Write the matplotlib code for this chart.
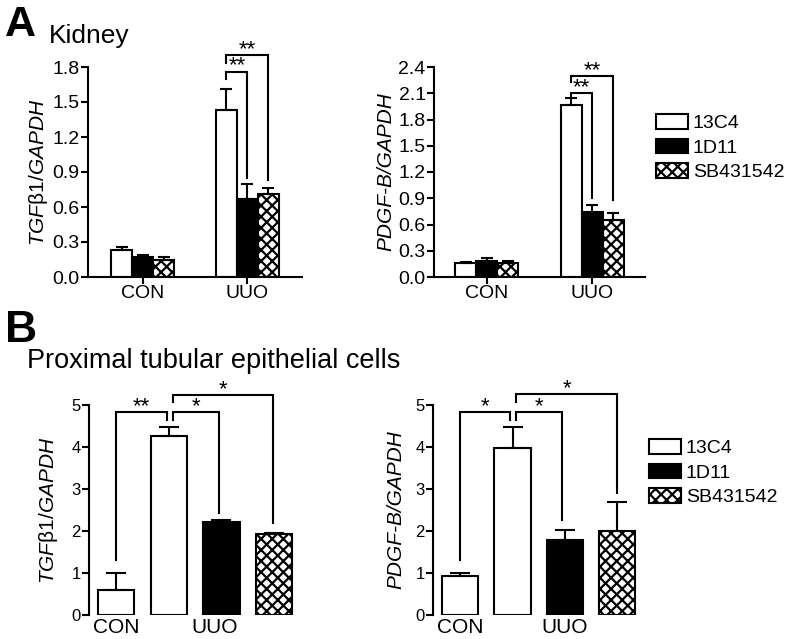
"""
Kidney and proximal tubular epithelial cell expression of TGFb1 and PDGF-B
"""

# Import required modules
import matplotlib
matplotlib.use('Agg')
import matplotlib.pyplot as plt
from matplotlib.patches import Patch
import numpy as np

plt.rcParams['font.family'] = ['Liberation Sans', 'DejaVu Sans']
plt.rcParams['mathtext.fontset'] = 'custom'
plt.rcParams['mathtext.it'] = 'Liberation Sans:italic'
plt.rcParams['mathtext.rm'] = 'Liberation Sans'
plt.rcParams['hatch.linewidth'] = 1.6

# Data
treatments = ['13C4', '1D11', 'SB431542']
groups = ['CON', 'UUO']

kidney_tgf_con = [0.23, 0.17, 0.15]
kidney_tgf_con_err = [0.025, 0.02, 0.02]
kidney_tgf_uuo = [1.43, 0.67, 0.71]
kidney_tgf_uuo_err = [0.18, 0.13, 0.055]

kidney_pdgf_con = [0.165, 0.185, 0.155]
kidney_pdgf_con_err = [0.008, 0.028, 0.03]
kidney_pdgf_uuo = [1.97, 0.74, 0.65]
kidney_pdgf_uuo_err = [0.08, 0.08, 0.08]

# Proximal tubular cells: CON (13C4), then UUO 13C4, 1D11, SB431542
ptec_tgf = [0.6, 4.27, 2.22, 1.94]
ptec_tgf_err = [0.4, 0.2, 0.04, 0.01]
ptec_pdgf = [0.93, 3.97, 1.79, 1.99]
ptec_pdgf_err = [0.07, 0.5, 0.24, 0.71]

# Bar styles per treatment
colors = ['white', 'black', 'white']
hatches = ['', '', 'xxx']
LW = 1.5

tgf_label = r'$\mathit{TGF}$β$\mathit{1/GAPDH}$'
pdgf_label = 'PDGF-B/GAPDH'


def px_axes(fig, left, top, right, bottom):
    # Axes placed by pixel edges of the 786x639 figure
    W, H = 786.0, 639.0
    return fig.add_axes([left / W, 1 - bottom / H,
                         (right - left) / W, (bottom - top) / H])


def style_axes(ax, fontsize, bottom=True):
    for side in ['top', 'right']:
        ax.spines[side].set_visible(False)
    ax.spines['left'].set_linewidth(LW)
    ax.spines['bottom'].set_linewidth(LW)
    ax.spines['bottom'].set_visible(bottom)
    ax.tick_params(axis='y', direction='out', length=5, width=LW,
                   pad=1, labelsize=fontsize)


def bracket(ax, x1, x2, top, bottom1, bottom2, text):
    ax.plot([x1, x1, x2, x2], [bottom1, top, top, bottom2], color='k',
            lw=LW, clip_on=False, solid_joinstyle='miter')
    ax.annotate(text, ((x1 + x2) / 2, top), xytext=(0, 0),
                textcoords='offset points', ha='center', va='baseline',
                fontsize=16, annotation_clip=False)


def kidney_panel(ax, con, con_err, uuo, uuo_err, ymax, xlim):
    x = np.arange(len(groups))
    width = 0.2
    for i in range(len(treatments)):
        xs = x + (i - 1) * width
        vals = [con[i], uuo[i]]
        errs = [con_err[i], uuo_err[i]]
        ax.bar(xs, vals, width, color=colors[i], edgecolor='k',
               hatch=hatches[i], linewidth=LW, label=treatments[i])
        ax.errorbar(xs, vals, yerr=[np.zeros(len(errs)), errs], fmt='none',
                    ecolor='k', elinewidth=LW, capsize=4, capthick=LW)
    ax.set_xlim(*xlim)
    ax.set_ylim(0, ymax)
    ax.set_yticks(np.arange(0, ymax + 0.01, 0.3))
    ax.set_yticklabels(['%.1f' % v for v in np.arange(0, ymax + 0.01, 0.3)])
    ax.set_xticks(x)
    ax.set_xticklabels(groups, fontsize=14)
    style_axes(ax, 14)
    ax.tick_params(axis='x', direction='out', length=5, width=LW, pad=1)


def cell_panel(ax, vals, errs, uuo_pos):
    x = np.arange(len(vals))
    width = 0.69
    bar_colors = ['white'] + colors
    bar_hatches = [''] + hatches
    for i in range(len(vals)):
        ax.bar(x[i], vals[i], width, color=bar_colors[i], edgecolor='k',
               hatch=bar_hatches[i], linewidth=LW)
    ax.errorbar(x, vals, yerr=[np.zeros(len(errs)), errs], fmt='none',
                ecolor='k', elinewidth=LW, capsize=7, capthick=LW)
    ax.set_xlim(-0.52, 3.38)
    ax.set_ylim(0, 5)
    ax.set_yticks(range(6))
    ax.set_xticks([0, uuo_pos])
    ax.set_xticklabels(groups, fontsize=15)
    style_axes(ax, 12, bottom=False)
    ax.tick_params(axis='x', length=0, pad=2)


fig = plt.figure(figsize=(7.86, 6.39), dpi=100)

# Panel A: kidney
ax1 = px_axes(fig, 88, 67, 302, 277)
kidney_panel(ax1, kidney_tgf_con, kidney_tgf_con_err,
             kidney_tgf_uuo, kidney_tgf_uuo_err, 1.8, (-0.52, 1.52))
ax1.set_ylabel(tgf_label, fontsize=15, labelpad=2)
bracket(ax1, 0.8, 1.0, 1.76, 1.70, 0.85, '**')
bracket(ax1, 0.8, 1.2, 1.90, 1.83, 0.83, '**')

ax2 = px_axes(fig, 434, 67, 645, 277)
kidney_panel(ax2, kidney_pdgf_con, kidney_pdgf_con_err,
             kidney_pdgf_uuo, kidney_pdgf_uuo_err, 2.4, (-0.5, 1.5))
ax2.set_ylabel(pdgf_label, fontsize=15, fontstyle='italic', labelpad=2)
bracket(ax2, 0.8, 1.0, 2.10, 2.04, 0.90, '**')
bracket(ax2, 0.8, 1.2, 2.30, 2.23, 0.88, '**')

handles = [Patch(facecolor=colors[i], edgecolor='k', hatch=hatches[i],
                 linewidth=LW, label=treatments[i])
           for i in range(len(treatments))]
leg_kw = dict(frameon=False, fontsize=14, loc='upper left',
              borderpad=0, borderaxespad=0, handlelength=1.65,
              handleheight=0.8, handletextpad=0.25, labelspacing=0.33)
fig.legend(handles=handles, bbox_to_anchor=(656 / 786, 1 - 114 / 639),
           **leg_kw)

# Panel B: proximal tubular epithelial cells
ax3 = px_axes(fig, 89, 405, 294, 615)
cell_panel(ax3, ptec_tgf, ptec_tgf_err, 1.87)
ax3.set_ylabel(tgf_label, fontsize=15, labelpad=8)
bracket(ax3, 0.0, 0.96, 4.83, 1.32, 4.64, '**')
bracket(ax3, 1.07, 1.96, 4.83, 4.64, 2.44, '*')
bracket(ax3, 1.07, 2.98, 5.24, 5.07, 2.20, '*')

ax4 = px_axes(fig, 433, 405, 637, 615)
cell_panel(ax4, ptec_pdgf, ptec_pdgf_err, 2.0)
ax4.set_ylabel(pdgf_label, fontsize=15, fontstyle='italic', labelpad=7)
bracket(ax4, 0.0, 0.96, 4.84, 1.32, 4.65, '*')
bracket(ax4, 1.07, 1.95, 4.84, 4.65, 2.27, '*')
bracket(ax4, 1.07, 3.0, 5.26, 5.06, 2.91, '*')

fig.legend(handles=handles, bbox_to_anchor=(649 / 786, 1 - 439 / 639),
           **leg_kw)

# Panel letters and titles
fig.text(5 / 786, 1 - 36 / 639, 'A', fontsize=31, fontweight='bold',
         va='baseline')
fig.text(49 / 786, 1 - 43 / 639, 'Kidney', fontsize=19, va='baseline')
fig.text(5 / 786, 1 - 342 / 639, 'B', fontsize=32, fontweight='bold',
         va='baseline')
fig.text(27 / 786, 1 - 368 / 639, 'Proximal tubular epithelial cells',
         fontsize=19.5, va='baseline')

plt.savefig('out.png', dpi=100)
